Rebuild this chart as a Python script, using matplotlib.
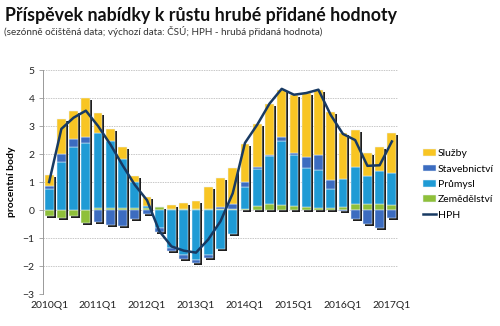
import numpy as np
import matplotlib
matplotlib.use("Agg")
import matplotlib.pyplot as plt
from matplotlib import transforms

plt.rcParams['font.family'] = ['Lato', 'DejaVu Sans']

quarters = ["2010Q1", "2010Q2", "2010Q3", "2010Q4",
            "2011Q1", "2011Q2", "2011Q3", "2011Q4",
            "2012Q1", "2012Q2", "2012Q3", "2012Q4",
            "2013Q1", "2013Q2", "2013Q3", "2013Q4",
            "2014Q1", "2014Q2", "2014Q3", "2014Q4",
            "2015Q1", "2015Q2", "2015Q3", "2015Q4",
            "2016Q1", "2016Q2", "2016Q3", "2016Q4",
            "2017Q1"]

zemedelstvi = [-0.22, -0.27, -0.21, -0.45,
               0.06, 0.08, 0.07, 0.07,
               0.06, 0.10, 0.05, 0.04,
               0.03, 0.03, 0.03, 0.03,
               0.05, 0.15, 0.20, 0.17,
               0.14, 0.10, 0.08, 0.07,
               0.10, 0.20, 0.20, 0.20,
               0.18]
prumysl = [0.77, 1.73, 2.24, 2.38,
           2.68, 2.38, 1.74, 0.94,
           0.08, -0.65, -1.37, -1.60,
           -1.78, -1.60, -1.40, -0.87,
           0.78, 1.30, 1.72, 2.31,
           1.81, 1.42, 1.35, 0.70,
           1.00, 1.35, 1.01, 1.20,
           1.15]
stavebnictvi = [0.08, 0.29, 0.29, 0.24,
                -0.42, -0.52, -0.58, -0.32,
                -0.15, -0.12, -0.10, -0.16,
                -0.12, -0.10, 0.08, 0.17,
                0.18, 0.08, 0.06, 0.12,
                0.10, 0.36, 0.52, 0.30,
                -0.05, -0.33, -0.50, -0.65,
                -0.30]
sluzby = [0.42, 1.22, 1.00, 1.40,
          0.74, 0.45, 0.45, 0.20,
          0.34, 0.00, 0.13, 0.20,
          0.30, 0.80, 1.02, 1.30,
          1.34, 1.53, 1.82, 1.69,
          2.07, 2.29, 2.35, 2.45,
          1.66, 1.31, 0.84, 0.86,
          1.43]
hph = [1.00, 2.90, 3.30, 3.55,
       3.00, 2.35, 1.60, 0.90,
       0.35, -0.75, -1.30, -1.45,
       -1.52, -1.05, -0.40, 0.60,
       2.40, 3.05, 3.80, 4.33,
       4.12, 4.18, 4.30, 3.40,
       2.72, 2.50, 1.58, 1.60,
       2.45]

series = [("Zemědělství", zemedelstvi, "#8fc03a"),
          ("Průmysl", prumysl, "#1f9bd5"),
          ("Stavebnictví", stavebnictvi, "#3c6cc0"),
          ("Služby", sluzby, "#f8c523")]

fig = plt.figure(figsize=(5.0, 3.26), dpi=100)
ax = fig.add_axes([0.086, 0.098, 0.71, 0.687])

x = np.arange(len(quarters))
width = 0.72

pos_base = np.zeros(len(x))
neg_base = np.zeros(len(x))
handles = {}
for name, vals, col in series:
    v = np.array(vals)
    bottoms = np.where(v >= 0, pos_base, neg_base)
    b = ax.bar(x, v, width, bottom=bottoms, color=col, edgecolor='#e8f0f8',
               linewidth=0.35, zorder=3, label=name)
    handles[name] = b
    pos_base = pos_base + np.where(v >= 0, v, 0)
    neg_base = neg_base + np.where(v < 0, v, 0)

# shadow behind each column
shadow_tr = transforms.offset_copy(ax.transData, fig=fig, x=2.0, y=-2.0, units='dots')
ax.bar(x, pos_base - neg_base, width, bottom=neg_base, color='#1e1e1e',
       linewidth=0, zorder=2, transform=shadow_tr)

line, = ax.plot(x, hph, color='#183a63', linewidth=1.8, zorder=5, label='HPH')

ax.set_xlim(-0.5, len(x) - 0.5)
ax.set_ylim(-3, 5)
ax.set_yticks(range(-3, 6))
ax.set_xticks(x[::4])
ax.set_xticklabels([quarters[i] for i in x[::4]])
ax.tick_params(axis='x', length=0, labelsize=7.5, pad=5, colors='#222222')
ax.tick_params(axis='y', length=3, width=0.6, color='#999999', labelsize=7.5,
               pad=3, colors='#222222')
for lbl in ax.get_yticklabels():
    lbl.set_color('#222222')
ax.yaxis.grid(True, color='#c8c8c8', linewidth=0.7, linestyle=(0, (1.5, 1)), zorder=0)
ax.set_axisbelow(True)
for s in ['top', 'right', 'bottom']:
    ax.spines[s].set_visible(False)
ax.spines['left'].set_color('#999999')
ax.spines['left'].set_linewidth(0.7)
ax.set_ylabel('procentní body', fontsize=7.5, fontweight='bold', labelpad=5)

fig.text(0.01, 0.935, 'Příspěvek nabídky k růstu hrubé přidané hodnoty',
         fontsize=12.8, fontweight='bold', color='#111111', va='baseline')
fig.text(0.008, 0.893, '(sezónně očištěná data; výchozí data: ČSÚ; HPH - hrubá přidaná hodnota)',
         fontsize=7.1, color='#333333', va='baseline')

leg_handles = [handles['Služby'], handles['Stavebnictví'], handles['Průmysl'],
               handles['Zemědělství'], line]
leg_labels = ['Služby', 'Stavebnictví', 'Průmysl', 'Zemědělství', 'HPH']
fig.legend(leg_handles, leg_labels, loc='center left', bbox_to_anchor=(0.845, 0.434),
           frameon=False, fontsize=7.5, handlelength=1.3, handleheight=0.6,
           handletextpad=0.15, labelspacing=0.62, borderpad=0, borderaxespad=0)

fig.savefig('out.png', dpi=100)
